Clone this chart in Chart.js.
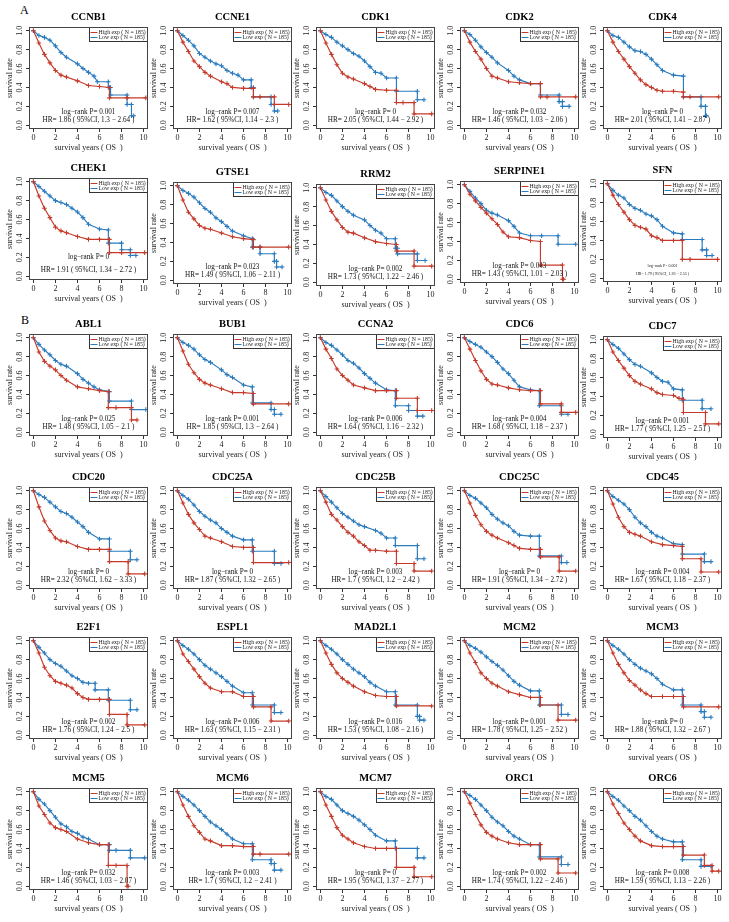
<!DOCTYPE html>
<html><head><meta charset="utf-8">
<script src="https://cdn.jsdelivr.net/npm/chart.js@4.4.1/dist/chart.umd.min.js"></script>
<style>
html,body{margin:0;padding:0;background:#fff;}
#fig{position:relative;width:729px;height:922px;overflow:hidden;background:#fff;font-family:"Liberation Serif","Times New Roman",serif;}
.panel{position:absolute;}
.tag{position:absolute;font-size:12px;line-height:12px;color:#000;}
</style></head><body>
<div id="fig"><div class="tag" style="left:20px;top:4px">A</div><div class="tag" style="left:21px;top:314px">B</div></div>
<script>
// ---- tick labels & legend ----
const xTicks = [0, 2, 4, 6, 8, 10];
const yTicks = [0, 0.2, 0.4, 0.6, 0.8, 1.0];
const legendLabels = ['High exp ( N = 185)', 'Low exp ( N = 185)'];

// ---- panels ----
const genes = ['CCNB1','CCNE1','CDK1','CDK2','CDK4','CHEK1','GTSE1','RRM2','SERPINE1','SFN',
  'ABL1','BUB1','CCNA2','CDC6','CDC7','CDC20','CDC25A','CDC25B','CDC25C','CDC45',
  'E2F1','ESPL1','MAD2L1','MCM2','MCM3','MCM5','MCM6','MCM7','ORC1','ORC6'];
const pValues = ['0.001','0.007','0','0.032','0','0','0.023','0.002','0.043','0.001',
  '0.025','0.001','0.006','0.004','0.001','0','0','0.003','0','0.004',
  '0.002','0.006','0.016','0.001','0','0.032','0.003','0','0.002','0.008'];
const hrValues = ['1.86','1.62','2.05','1.46','2.01','1.91','1.49','1.73','1.43','1.79',
  '1.48','1.85','1.64','1.68','1.77','2.32','1.87','1.7','1.91','1.67',
  '1.76','1.63','1.53','1.78','1.88','1.46','1.7','1.95','1.74','1.59'];
const ciLow = ['1.3','1.14','1.44','1.03','1.41','1.34','1.06','1.22','1.01','1.26',
  '1.05','1.3','1.16','1.18','1.25','1.62','1.32','1.2','1.34','1.18',
  '1.24','1.15','1.08','1.25','1.32','1.03','1.2','1.37','1.22','1.13'];
const ciHigh = ['2.64','2.3','2.92','2.06','2.87','2.72','2.11','2.46','2.03','2.55',
  '2.1','2.64','2.32','2.37','2.51','3.33','2.65','2.42','2.72','2.37',
  '2.5','2.31','2.16','2.52','2.67','2.07','2.41','2.77','2.46','2.26'];

// ---- survival curves: [years, survival] ----
const CCNB1_high = [[0,1],[0.5,0.87],[1,0.75],[1.5,0.66],[2,0.58],[2.5,0.53],[3,0.51],[4,0.47],[5,0.42],[6,0.41],[6.9,0.40],[6.9,0.29],[8.5,0.29],[10.2,0.29]];
const CCNB1_low = [[0,1],[0.5,0.95],[1,0.93],[1.5,0.9],[2,0.84],[2.5,0.77],[3,0.72],[4,0.65],[4.5,0.6],[5,0.56],[5.5,0.52],[5.8,0.46],[6.8,0.46],[6.8,0.4],[7,0.4],[7,0.32],[8.5,0.32],[8.5,0.22],[8.9,0.22],[8.9,0.1],[9.1,0.1]];
const CCNE1_high = [[0,1],[0.5,0.88],[1,0.78],[1.5,0.68],[2,0.62],[2.5,0.56],[3,0.52],[4,0.46],[4.5,0.44],[5,0.4],[6,0.39],[6.9,0.39],[6.9,0.3],[7.5,0.3],[8.8,0.3],[8.8,0.22],[10.1,0.22]];
const CCNE1_low = [[0,1],[0.5,0.95],[1,0.9],[1.5,0.84],[2,0.76],[2.5,0.72],[3,0.68],[3.5,0.65],[4,0.63],[4.5,0.58],[5,0.55],[5.5,0.53],[6,0.48],[6.7,0.48],[6.7,0.4],[6.9,0.4],[6.9,0.3],[8.5,0.3],[8.5,0.22],[8.8,0.22],[8.8,0.15],[9.1,0.15]];
const CDK1_high = [[0,1],[0.5,0.87],[1,0.75],[1.5,0.64],[2,0.55],[2.5,0.51],[3,0.49],[4,0.44],[4.5,0.41],[5,0.38],[6,0.37],[6.9,0.37],[6.9,0.24],[7.5,0.24],[8.5,0.24],[8.5,0.12],[10.1,0.12]];
const CDK1_low = [[0,1],[0.5,0.96],[1,0.93],[1.5,0.88],[2,0.84],[2.5,0.8],[3,0.76],[3.5,0.73],[4,0.68],[4.5,0.62],[5,0.56],[5.5,0.55],[6,0.5],[6.9,0.5],[6.9,0.36],[8.8,0.36],[8.8,0.27],[9.4,0.27]];
const CDK2_high = [[0,1],[0.5,0.88],[1,0.78],[1.5,0.7],[2,0.6],[2.5,0.52],[3,0.5],[4,0.46],[5,0.45],[6,0.44],[6.9,0.44],[6.9,0.3],[7.5,0.3],[10.1,0.3]];
const CDK2_low = [[0,1],[0.5,0.96],[1,0.9],[1.5,0.83],[2,0.77],[2.5,0.72],[3,0.66],[4,0.58],[4.5,0.52],[5,0.48],[6,0.44],[6.9,0.44],[6.9,0.32],[8.6,0.32],[8.6,0.25],[8.9,0.25],[8.9,0.2],[9.5,0.2]];
const CDK4_high = [[0,1],[0.5,0.88],[1,0.78],[1.5,0.7],[2,0.62],[2.5,0.55],[3,0.48],[3.5,0.43],[4,0.4],[4.5,0.37],[5,0.36],[6,0.36],[6.9,0.35],[6.9,0.3],[7.5,0.3],[10.1,0.3]];
const CDK4_low = [[0,1],[0.5,0.95],[1,0.93],[1.5,0.88],[2,0.83],[2.5,0.79],[3,0.78],[3.5,0.75],[4,0.7],[4.5,0.64],[5,0.58],[6,0.53],[6.9,0.52],[6.9,0.3],[8.5,0.3],[8.5,0.2],[8.9,0.2],[8.9,0.1],[9,0.1]];
const CHEK1_high = [[0,1],[0.5,0.85],[1,0.72],[1.5,0.62],[2,0.52],[2.5,0.48],[3,0.46],[4,0.42],[5,0.39],[6,0.39],[6.9,0.39],[6.9,0.25],[8,0.25],[10.1,0.25]];
const CHEK1_low = [[0,1],[0.5,0.95],[1,0.9],[1.5,0.85],[2,0.8],[2.5,0.78],[3,0.76],[3.5,0.72],[4,0.68],[4.5,0.62],[5,0.55],[6,0.5],[6.8,0.49],[6.8,0.35],[8,0.35],[8,0.28],[8.8,0.28],[8.8,0.22],[9.3,0.22]];
const GTSE1_high = [[0,1],[0.5,0.85],[1,0.72],[1.5,0.65],[2,0.58],[2.5,0.55],[3,0.54],[4,0.5],[5,0.46],[6,0.44],[6.9,0.43],[6.9,0.35],[7.5,0.35],[10.1,0.35]];
const GTSE1_low = [[0,1],[0.5,0.95],[1,0.92],[1.5,0.88],[2,0.82],[2.5,0.76],[3,0.72],[3.5,0.66],[4,0.62],[4.5,0.57],[5,0.52],[6,0.47],[6.8,0.44],[6.8,0.35],[7.5,0.35],[7.5,0.28],[8.8,0.28],[8.8,0.2],[9,0.2],[9,0.14],[9.5,0.14]];
const RRM2_high = [[0,1],[0.5,0.87],[1,0.75],[1.5,0.66],[2,0.58],[2.5,0.53],[3,0.52],[4,0.47],[5,0.43],[6,0.41],[6.9,0.4],[6.9,0.33],[8.5,0.33],[8.5,0.17],[10.1,0.17]];
const RRM2_low = [[0,1],[0.5,0.95],[1,0.92],[1.5,0.86],[2,0.8],[2.5,0.75],[3,0.71],[4,0.66],[4.5,0.6],[5,0.55],[5.5,0.52],[6,0.46],[6.8,0.46],[6.8,0.36],[7,0.36],[7,0.3],[8.8,0.3],[8.8,0.23],[9.5,0.23]];
const SERPINE1_high = [[0,1],[0.5,0.9],[1,0.83],[1.5,0.76],[2,0.7],[2.5,0.64],[3,0.58],[3.5,0.5],[4,0.45],[5,0.44],[6,0.41],[6.9,0.4],[6.9,0.15],[8.9,0.15],[8.9,0],[9,0]];
const SERPINE1_low = [[0,1],[0.5,0.93],[1,0.86],[1.5,0.8],[2,0.73],[2.5,0.7],[3,0.68],[4,0.62],[4.5,0.56],[5,0.49],[6,0.46],[7,0.46],[8.5,0.46],[8.5,0.37],[10.1,0.37]];
const SFN_high = [[0,1],[0.5,0.88],[1,0.78],[1.5,0.7],[2,0.62],[2.5,0.56],[3,0.54],[3.5,0.52],[4,0.45],[4.5,0.43],[5,0.4],[6,0.4],[6.8,0.4],[6.8,0.2],[7.5,0.2],[10,0.2]];
const SFN_low = [[0,1],[0.5,0.93],[1,0.88],[1.5,0.85],[2,0.78],[2.5,0.74],[3,0.72],[3.5,0.68],[4,0.66],[4.5,0.62],[5,0.55],[6,0.48],[6.8,0.47],[6.8,0.41],[8.6,0.41],[8.6,0.3],[9,0.3],[9,0.24],[9.5,0.24]];
const ABL1_high = [[0,1],[0.5,0.85],[1,0.75],[1.5,0.7],[2,0.66],[2.5,0.6],[3,0.55],[4,0.48],[5,0.46],[6,0.44],[6.8,0.43],[6.8,0.26],[7.5,0.26],[8.9,0.26],[8.9,0.13],[9.4,0.13]];
const ABL1_low = [[0,1],[0.5,0.93],[1,0.87],[1.5,0.82],[2,0.76],[2.5,0.72],[3,0.7],[4,0.62],[4.5,0.56],[5,0.52],[5.5,0.48],[6,0.45],[6.9,0.43],[6.9,0.33],[8.9,0.33],[8.9,0.24],[10.2,0.24]];
const BUB1_high = [[0,1],[0.5,0.86],[1,0.72],[1.5,0.63],[2,0.56],[2.5,0.52],[3,0.5],[4,0.46],[5,0.42],[6,0.42],[6.9,0.41],[6.9,0.3],[10.1,0.3]];
const BUB1_low = [[0,1],[0.5,0.95],[1,0.92],[1.5,0.88],[2,0.82],[2.5,0.77],[3,0.74],[4,0.66],[4.5,0.61],[5,0.58],[6,0.5],[6.8,0.48],[6.8,0.31],[8.5,0.31],[8.5,0.24],[8.8,0.24],[8.8,0.19],[9.4,0.19]];
const CCNA2_high = [[0,1],[0.5,0.88],[1,0.78],[1.5,0.67],[2,0.6],[2.5,0.55],[3,0.5],[4,0.47],[5,0.44],[6,0.44],[6.9,0.44],[6.9,0.36],[8.8,0.36],[8.8,0.23],[10.1,0.23]];
const CCNA2_low = [[0,1],[0.5,0.95],[1,0.92],[1.5,0.87],[2,0.82],[2.5,0.76],[3,0.73],[3.5,0.68],[4,0.62],[4.5,0.57],[5,0.52],[6,0.45],[6.8,0.44],[6.8,0.28],[8,0.28],[8,0.23],[8.8,0.23],[8.8,0.17],[9.3,0.17]];
const CDC6_high = [[0,1],[0.5,0.88],[1,0.76],[1.5,0.65],[2,0.56],[2.5,0.51],[3,0.5],[4,0.47],[5,0.45],[6,0.44],[6.9,0.44],[6.9,0.3],[8.8,0.3],[8.8,0.21],[10.1,0.21]];
const CDC6_low = [[0,1],[0.5,0.96],[1,0.93],[1.5,0.9],[2,0.85],[2.5,0.8],[3,0.74],[3.5,0.67],[4,0.62],[4.5,0.55],[5,0.48],[6,0.45],[6.8,0.44],[6.8,0.28],[8.8,0.28],[8.8,0.19],[9.4,0.19]];
const CDC7_high = [[0,1],[0.5,0.87],[1,0.78],[1.5,0.7],[2,0.62],[2.5,0.56],[3,0.53],[4,0.48],[4.5,0.44],[5,0.42],[6,0.41],[6.5,0.38],[6.9,0.37],[6.9,0.23],[8.9,0.23],[8.9,0.11],[10.1,0.11]];
const CDC7_low = [[0,1],[0.5,0.95],[1,0.91],[1.5,0.85],[2,0.79],[2.5,0.74],[3,0.72],[4,0.65],[4.5,0.6],[5,0.56],[5.5,0.55],[6,0.48],[6.8,0.47],[6.8,0.36],[8.6,0.36],[8.6,0.27],[9.4,0.27]];
const CDC20_high = [[0,1],[0.5,0.83],[1,0.68],[1.5,0.58],[2,0.5],[2.5,0.47],[3,0.46],[4,0.41],[5,0.38],[6,0.38],[6.9,0.38],[6.9,0.25],[8.6,0.25],[8.6,0.12],[10.1,0.12]];
const CDC20_low = [[0,1],[0.5,0.96],[1,0.93],[1.5,0.88],[2,0.83],[2.5,0.78],[3,0.76],[3.5,0.72],[4,0.67],[4.5,0.62],[5,0.56],[6,0.49],[6.9,0.49],[6.9,0.36],[8.8,0.36],[8.8,0.27],[9.4,0.27]];
const CDC25A_high = [[0,1],[0.5,0.87],[1,0.75],[1.5,0.66],[2,0.59],[2.5,0.52],[3,0.5],[4,0.46],[5,0.41],[6,0.4],[6.9,0.4],[6.9,0.24],[10.1,0.24]];
const CDC25A_low = [[0,1],[0.5,0.95],[1,0.91],[1.5,0.85],[2,0.78],[2.5,0.73],[3,0.69],[3.5,0.66],[4,0.6],[4.5,0.56],[5,0.52],[6,0.48],[6.8,0.48],[6.8,0.36],[8.8,0.36],[8.8,0.23],[9.4,0.23]];
const CDC25B_high = [[0,1],[0.5,0.88],[1,0.75],[1.5,0.69],[2,0.62],[2.5,0.56],[3,0.52],[3.5,0.46],[4,0.42],[4.5,0.37],[5,0.37],[6,0.36],[6.9,0.36],[6.9,0.23],[8.5,0.23],[8.5,0.15],[10.1,0.15]];
const CDC25B_low = [[0,1],[0.5,0.94],[1,0.88],[1.5,0.82],[2,0.76],[2.5,0.72],[3,0.68],[3.5,0.64],[4,0.62],[5,0.58],[5.5,0.55],[6,0.5],[6.8,0.5],[6.8,0.42],[8.8,0.42],[8.8,0.28],[9.4,0.28]];
const CDC25C_high = [[0,1],[0.5,0.87],[1,0.74],[1.5,0.64],[2,0.57],[2.5,0.53],[3,0.5],[4,0.45],[4.5,0.42],[5,0.39],[6,0.38],[6.9,0.38],[6.9,0.3],[8.6,0.3],[8.6,0.15],[10.1,0.15]];
const CDC25C_low = [[0,1],[0.5,0.95],[1,0.92],[1.5,0.87],[2,0.82],[2.5,0.75],[3,0.7],[3.5,0.66],[4,0.63],[4.5,0.57],[5,0.53],[6,0.52],[6.8,0.52],[6.8,0.31],[8.8,0.31],[8.8,0.24],[9.3,0.24]];
const CDC45_high = [[0,1],[0.5,0.86],[1,0.72],[1.5,0.62],[2,0.56],[2.5,0.54],[3,0.52],[4,0.46],[5,0.43],[6,0.42],[6.8,0.41],[6.8,0.28],[8.5,0.28],[8.5,0.14],[10.1,0.14]];
const CDC45_low = [[0,1],[0.5,0.94],[1,0.9],[1.5,0.86],[2,0.8],[2.5,0.72],[3,0.66],[3.5,0.62],[4,0.56],[4.5,0.52],[5,0.5],[6,0.44],[6.8,0.43],[6.8,0.33],[8.8,0.33],[8.8,0.25],[9.4,0.25]];
const E2F1_high = [[0,1],[0.5,0.87],[1,0.72],[1.5,0.63],[2,0.57],[2.5,0.55],[3,0.53],[3.5,0.5],[4,0.44],[4.5,0.4],[5,0.38],[6,0.38],[6.9,0.38],[6.9,0.22],[8.5,0.22],[8.5,0.11],[10.1,0.11]];
const E2F1_low = [[0,1],[0.5,0.93],[1,0.87],[1.5,0.8],[2,0.76],[2.5,0.73],[3,0.68],[3.5,0.63],[4,0.6],[4.5,0.56],[5,0.55],[5.6,0.55],[5.6,0.48],[6.8,0.48],[6.8,0.37],[8.8,0.37],[8.8,0.27],[9.4,0.27]];
const ESPL1_high = [[0,1],[0.5,0.86],[1,0.78],[1.5,0.7],[2,0.62],[2.5,0.55],[3,0.5],[4,0.46],[5,0.46],[6,0.41],[6.9,0.41],[6.9,0.3],[8.5,0.3],[8.5,0.15],[10.1,0.15]];
const ESPL1_low = [[0,1],[0.5,0.95],[1,0.91],[1.5,0.86],[2,0.8],[2.5,0.74],[3,0.7],[3.5,0.66],[4,0.62],[4.5,0.57],[5,0.52],[6,0.45],[6.8,0.45],[6.8,0.32],[8.8,0.32],[8.8,0.24],[9.4,0.24]];
const MAD2L1_high = [[0,1],[0.5,0.87],[1,0.75],[1.5,0.66],[2,0.6],[2.5,0.56],[3,0.52],[4,0.46],[5,0.42],[6,0.41],[6.9,0.41],[6.9,0.31],[10.1,0.31]];
const MAD2L1_low = [[0,1],[0.5,0.95],[1,0.91],[1.5,0.86],[2,0.8],[2.5,0.75],[3,0.7],[3.5,0.66],[4,0.62],[4.5,0.56],[5,0.52],[6,0.46],[6.8,0.46],[6.8,0.32],[8.8,0.32],[8.8,0.2],[9,0.2],[9,0.16],[9.4,0.16]];
const MCM2_high = [[0,1],[0.5,0.87],[1,0.77],[1.5,0.66],[2,0.6],[2.5,0.55],[3,0.52],[4,0.46],[5,0.43],[6,0.4],[6.9,0.4],[6.9,0.32],[8.5,0.32],[8.5,0.16],[10.1,0.16]];
const MCM2_low = [[0,1],[0.5,0.95],[1,0.92],[1.5,0.88],[2,0.83],[2.5,0.78],[3,0.74],[3.5,0.69],[4,0.63],[4.5,0.57],[5,0.53],[6,0.47],[6.8,0.47],[6.8,0.32],[8.8,0.32],[8.8,0.22],[9.4,0.22]];
const MCM3_high = [[0,1],[0.5,0.87],[1,0.75],[1.5,0.66],[2,0.58],[2.5,0.53],[3,0.48],[3.5,0.44],[4,0.41],[5,0.41],[6,0.41],[6.9,0.41],[6.9,0.3],[10.1,0.3]];
const MCM3_low = [[0,1],[0.5,0.95],[1,0.91],[1.5,0.86],[2,0.8],[2.5,0.75],[3,0.71],[3.5,0.68],[4,0.65],[4.5,0.6],[5,0.54],[6,0.48],[6.8,0.48],[6.8,0.32],[8.5,0.32],[8.5,0.25],[8.8,0.25],[8.8,0.19],[9.4,0.19]];
const MCM5_high = [[0,1],[0.5,0.85],[1,0.76],[1.5,0.67],[2,0.62],[2.5,0.6],[3,0.58],[4,0.5],[5,0.46],[6,0.44],[6.8,0.44],[6.8,0.22],[7.5,0.22],[8.5,0.22],[8.5,0],[8.6,0]];
const MCM5_low = [[0,1],[0.5,0.92],[1,0.87],[1.5,0.8],[2,0.73],[2.5,0.66],[3,0.63],[3.5,0.58],[4,0.56],[4.5,0.52],[5,0.5],[6,0.44],[6.9,0.44],[6.9,0.38],[7.5,0.38],[8.8,0.38],[8.8,0.3],[10.1,0.3]];
const MCM6_high = [[0,1],[0.5,0.86],[1,0.74],[1.5,0.64],[2,0.57],[2.5,0.5],[3,0.48],[4,0.43],[5,0.43],[6,0.42],[6.9,0.42],[6.9,0.34],[7.5,0.34],[10.1,0.34]];
const MCM6_low = [[0,1],[0.5,0.95],[1,0.91],[1.5,0.86],[2,0.8],[2.5,0.74],[3,0.68],[3.5,0.64],[4,0.6],[4.5,0.55],[5,0.5],[6,0.45],[6.8,0.45],[6.8,0.28],[8.5,0.28],[8.5,0.24],[8.8,0.24],[8.8,0.17],[9.4,0.17]];
const MCM7_high = [[0,1],[0.5,0.86],[1,0.74],[1.5,0.62],[2,0.54],[2.5,0.5],[3,0.46],[4,0.42],[5,0.4],[6,0.4],[6.9,0.4],[6.9,0.2],[8.5,0.2],[8.5,0.1],[10.1,0.1]];
const MCM7_low = [[0,1],[0.5,0.95],[1,0.92],[1.5,0.86],[2,0.8],[2.5,0.77],[3,0.74],[3.5,0.7],[4,0.65],[4.5,0.6],[5,0.54],[6,0.48],[6.8,0.48],[6.8,0.4],[8.8,0.4],[8.8,0.3],[9.4,0.3]];
const ORC1_high = [[0,1],[0.5,0.88],[1,0.76],[1.5,0.65],[2,0.57],[2.5,0.53],[3,0.5],[4,0.46],[5,0.44],[6,0.44],[6.9,0.44],[6.9,0.29],[8.5,0.29],[8.5,0.14],[10.1,0.14]];
const ORC1_low = [[0,1],[0.5,0.96],[1,0.92],[1.5,0.86],[2,0.8],[2.5,0.73],[3,0.68],[3.5,0.64],[4,0.58],[4.5,0.53],[5,0.5],[6,0.44],[6.8,0.44],[6.8,0.31],[8.8,0.31],[8.8,0.23],[9.4,0.23]];
const ORC6_high = [[0,1],[0.5,0.87],[1,0.77],[1.5,0.67],[2,0.6],[2.5,0.53],[3,0.48],[4,0.43],[5,0.42],[6,0.42],[6.9,0.42],[6.9,0.33],[8.8,0.33],[8.8,0.22],[9.5,0.22],[9.5,0.16],[10.1,0.16]];
const ORC6_low = [[0,1],[0.5,0.95],[1,0.91],[1.5,0.85],[2,0.8],[2.5,0.74],[3,0.7],[3.5,0.64],[4,0.58],[4.5,0.53],[5,0.5],[6,0.47],[6.8,0.47],[6.8,0.28],[8.5,0.28],[8.5,0.21],[9.4,0.21]];

const highCurves = [CCNB1_high,CCNE1_high,CDK1_high,CDK2_high,CDK4_high,CHEK1_high,GTSE1_high,RRM2_high,SERPINE1_high,SFN_high,
  ABL1_high,BUB1_high,CCNA2_high,CDC6_high,CDC7_high,CDC20_high,CDC25A_high,CDC25B_high,CDC25C_high,CDC45_high,
  E2F1_high,ESPL1_high,MAD2L1_high,MCM2_high,MCM3_high,MCM5_high,MCM6_high,MCM7_high,ORC1_high,ORC6_high];
const lowCurves = [CCNB1_low,CCNE1_low,CDK1_low,CDK2_low,CDK4_low,CHEK1_low,GTSE1_low,RRM2_low,SERPINE1_low,SFN_low,
  ABL1_low,BUB1_low,CCNA2_low,CDC6_low,CDC7_low,CDC20_low,CDC25A_low,CDC25B_low,CDC25C_low,CDC45_low,
  E2F1_low,ESPL1_low,MAD2L1_low,MCM2_low,MCM3_low,MCM5_low,MCM6_low,MCM7_low,ORC1_low,ORC6_low];

// ---- layout & style ----
const SERIF = '"Liberation Serif", "Times New Roman", serif';
const RED = '#C53A2A', BLUE = '#2A7BBE';
const colBox = [29, 172.5, 316, 459.5, 603];
const rowBox = [27, 180, 334, 487, 637, 788];
const panelDy = {CHEK1: -2, GTSE1: 2, RRM2: 4, SERPINE1: 1, CDC7: 2};
const textPos = {CHEK1: [0.2, 0.06]};
const textSize = {SFN: 4};
const PW = 119, PH = 102, LM = 29, TM = 25, BM = 26, RM = 4;

const kmDecor = {
  id: 'kmDecor',
  afterDatasetsDraw(chart, args, o) {
    const {ctx, chartArea: a, scales: {x, y}} = chart;
    ctx.save();
    // legend (top-right)
    ctx.font = o.legendSize + 'px ' + SERIF;
    const dsets = chart.data.datasets;
    const tw = Math.max(...dsets.map(d => ctx.measureText(d.label).width));
    const lw = Math.round(10 + tw + 1.5), lh = 15;
    const lx = Math.round(a.right) - lw, ly = Math.round(a.top);
    ctx.fillStyle = '#fff';
    ctx.fillRect(lx, ly, lw, lh);
    ctx.strokeStyle = '#333'; ctx.lineWidth = 1;
    ctx.strokeRect(lx + 0.5, ly + 0.5, lw - 1, lh - 1);
    ctx.textAlign = 'left'; ctx.textBaseline = 'middle';
    dsets.forEach((d, k) => {
      const yy = ly + 4.7 + k * 5.6;
      ctx.strokeStyle = d.borderColor; ctx.lineWidth = 1;
      ctx.beginPath(); ctx.moveTo(lx + 1.5, Math.round(yy) + 0.5); ctx.lineTo(lx + 8.5, Math.round(yy) + 0.5); ctx.stroke();
      ctx.fillStyle = '#222';
      ctx.fillText(d.label, lx + 9.5, yy + 0.3);
    });
    // statistics text
    ctx.font = o.textSize + 'px ' + SERIF;
    ctx.fillStyle = '#111'; ctx.textAlign = 'center'; ctx.textBaseline = 'middle';
    const cx = x.getPixelForValue(5);
    ctx.fillText(o.lr, cx, y.getPixelForValue(o.lrY));
    ctx.fillText(o.hr, cx, y.getPixelForValue(o.hrY));
    // frame
    ctx.strokeStyle = '#444'; ctx.lineWidth = 1;
    ctx.strokeRect(Math.round(a.left) + 0.5, Math.round(a.top) + 0.5, Math.round(a.width) - 1, Math.round(a.height) - 1);
    ctx.restore();
  }
};

const fig = document.getElementById('fig');
function makePanel(i) {
  const g = genes[i], r = Math.floor(i / 5), c = i % 5;
  const dy = panelDy[g] || 0;
  const W = LM + PW + RM, H = TM + PH + BM;
  const cv = document.createElement('canvas');
  cv.width = W; cv.height = H; cv.className = 'panel';
  cv.style.width = W + 'px'; cv.style.height = H + 'px';
  cv.style.left = (colBox[c] - LM) + 'px';
  cv.style.top = (rowBox[r] + dy - TM) + 'px';
  fig.appendChild(cv);
  const toXY = arr => arr.map(p => ({x: p[0], y: p[1]}));
  const ds = (label, data, col) => ({
    label, data: toXY(data), borderColor: col, backgroundColor: col, borderWidth: 1.15, tension: 0, fill: false,
    pointStyle: 'cross', pointRadius: 2.3, pointHoverRadius: 2.3, pointBorderWidth: 1.1, pointBorderColor: col
  });
  const tickFont = {family: SERIF, size: 8};
  const gridOpt = {drawOnChartArea: false, drawTicks: true, tickLength: 3, color: '#333', lineWidth: 1};
  const tp = textPos[g] || [0.135, 0.05];
  new Chart(cv, {
    type: 'line',
    data: {datasets: [ds(legendLabels[0], highCurves[i], RED), ds(legendLabels[1], lowCurves[i], BLUE)]},
    options: {
      responsive: false, animation: false, devicePixelRatio: 1, events: [],
      layout: {padding: {left: 0, right: RM, top: 0, bottom: 0}},
      plugins: {
        legend: {display: false}, tooltip: {enabled: false},
        title: {display: true, fullSize: false, text: g, color: '#000',
          font: {family: SERIF, size: 10.5, weight: 'bold', lineHeight: 1.2}, padding: {top: 9.4, bottom: 3}},
        kmDecor: {
          legendSize: 5.8, textSize: textSize[g] || 7.2,
          lr: 'log\u2212rank P= ' + pValues[i],
          hr: 'HR= ' + hrValues[i] + ' ( 95%CI, ' + ciLow[i] + ' \u2212 ' + ciHigh[i] + ' )',
          lrY: tp[0], hrY: tp[1]
        }
      },
      scales: {
        x: {
          type: 'linear', min: -0.4, max: 10.4,
          afterBuildTicks: s => { s.ticks = xTicks.map(v => ({value: v})); },
          afterFit: s => { s.height = BM; },
          border: {display: false}, grid: gridOpt,
          ticks: {font: tickFont, color: '#222', padding: 1, maxRotation: 0, minRotation: 0, autoSkip: false, callback: v => String(v)},
          title: {display: true, text: 'survival years ( OS  )', color: '#222', font: {family: SERIF, size: 8}, padding: {top: 0, bottom: 2.5}}
        },
        y: {
          type: 'linear', min: -0.04, max: 1.04,
          afterBuildTicks: s => { s.ticks = yTicks.map(v => ({value: v})); },
          afterFit: s => { s.width = LM; },
          border: {display: false}, grid: gridOpt,
          ticks: {font: tickFont, color: '#222', padding: 1, minRotation: 90, maxRotation: 90, crossAlign: 'center', autoSkip: false, callback: v => Number(v).toFixed(1)},
          title: {display: true, text: 'survival rate', color: '#222', font: {family: SERIF, size: 8}, padding: {top: 5.2, bottom: 0}}
        }
      }
    },
    plugins: [kmDecor]
  });
}
for (let i = 0; i < genes.length; i++) makePanel(i);
</script>
</body></html>
